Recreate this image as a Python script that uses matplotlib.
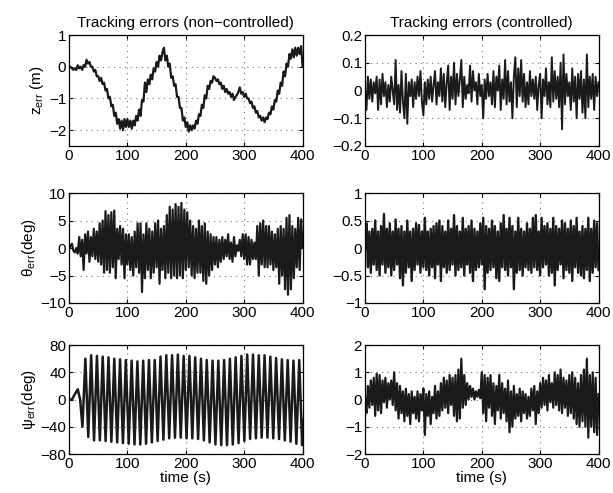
import numpy as np
import matplotlib.pyplot as plt

plt.rcParams['font.family'] = ['Liberation Sans', 'DejaVu Sans']
plt.rcParams['font.size'] = 10
plt.rcParams['mathtext.fontset'] = 'custom'
plt.rcParams['mathtext.rm'] = 'Liberation Sans'
plt.rcParams['mathtext.it'] = 'Liberation Sans:italic'

# time base for the sampled signals (2.5 s step)
t = np.linspace(0, 400, 161)

# z error, non-controlled (m)
z_nc = [0.0, 0.0, -0.05, -0.1,
        -0.05, -0.1, 0.05, -0.05,
        0.0, -0.1, 0.05, 0.0,
        0.22, 0.1, 0.15, 0.0,
        0.0, -0.15, -0.1, -0.3,
        -0.3, -0.45, -0.35, -0.55,
        -0.5, -0.75, -0.7, -1.0,
        -0.95, -1.25, -1.2, -1.55,
        -1.45, -1.8, -1.65, -1.95,
        -1.7, -2.0, -1.65, -1.9,
        -1.65, -1.9, -1.7, -1.95,
        -1.7, -1.85, -1.55, -1.7,
        -1.35, -1.55, -1.05, -1.1,
        -0.5, -0.8, -0.4, -0.55,
        -0.25, -0.4, -0.05, -0.15,
        0.15, 0.0, 0.35, 0.2,
        0.45, 0.6, 0.2, 0.35,
        0.0, 0.1, -0.35, -0.3,
        -0.6, -0.55, -0.95, -0.95,
        -1.3, -1.3, -1.7, -1.6,
        -1.9, -1.75, -2.05, -1.85,
        -2.0, -1.85, -1.95, -1.7,
        -1.8, -1.5, -1.55, -1.2,
        -1.3, -0.9, -1.0, -0.6,
        -0.7, -0.45, -0.5, -0.3,
        -0.35, -0.45, -0.4, -0.55,
        -0.5, -0.7, -0.6, -0.8,
        -0.7, -0.85, -0.8, -0.95,
        -0.85, -1.05, -0.95, -0.9,
        -0.8, -0.65, -0.85, -0.8,
        -0.95, -0.85, -1.0, -1.0,
        -1.15, -1.1, -1.3, -1.25,
        -1.45, -1.4, -1.6, -1.55,
        -1.7, -1.6, -1.75, -1.6,
        -1.65, -1.45, -1.5, -1.25,
        -1.35, -1.05, -1.1, -0.75,
        -0.85, -0.5, -0.6, -0.15,
        -0.3, 0.1, 0.0, 0.4,
        0.25, 0.55, 0.3, 0.6,
        0.35, 0.6, 0.4, 0.65,
        0.0]

# z error, controlled (m)
z_c = [0.0, -0.07, 0.05, -0.03,
       0.04, -0.04, 0.03, -0.01,
       0.05, -0.07, 0.04, -0.05,
       0.06, -0.02, 0.03, -0.06,
       0.02, -0.04, 0.05, 0.0,
       -0.05, 0.11, -0.07, 0.02,
       -0.08, 0.07, -0.04, -0.10,
       0.06, -0.12, 0.03, -0.02,
       0.04, -0.06, 0.03, -0.03,
       0.05, -0.02, 0.07, -0.04,
       -0.09, 0.03, -0.05, 0.04,
       -0.03, 0.05, -0.04, 0.02,
       0.07, -0.05, 0.03, -0.02,
       0.08, -0.04, 0.06, -0.06,
       0.03, 0.09, -0.07, 0.05,
       -0.03, 0.10, -0.05, 0.06,
       -0.02, 0.04, 0.11, -0.06,
       0.05, -0.03, 0.02, -0.01,
       0.09, -0.04, 0.07, 0.0,
       0.03, -0.05, 0.06, -0.02,
       0.02, -0.10, 0.04, -0.03,
       0.06, -0.02, 0.03, -0.05,
       0.07, -0.06, 0.05, 0.0,
       0.09, -0.07, 0.04, -0.03,
       0.11, -0.05, 0.07, -0.04,
       0.03, -0.10, 0.05, 0.12,
       -0.06, 0.08, -0.02, 0.11,
       -0.04, 0.06, -0.06, 0.03,
       -0.05, 0.07, -0.02, 0.04,
       -0.03, 0.05, -0.07, 0.02,
       0.06, -0.10, 0.04, -0.02,
       0.08, -0.05, 0.03, -0.06,
       0.12, -0.04, 0.07, -0.03,
       0.05, -0.06, 0.10, -0.14,
       0.13, -0.05, 0.06, -0.02,
       0.03, -0.07, 0.08, -0.04,
       0.05, -0.10, 0.06, -0.03,
       0.07, -0.08, 0.04, -0.10,
       0.13, -0.06, 0.05, -0.03,
       0.06, -0.07, 0.05, -0.02,
       0.03]

# theta error, non-controlled (deg)
th_nc = [0.0, 0.3, 0.8, -0.5,
         -0.8, 0.0, -1.0, 2.0,
         -1.5, 1.5, -4.0, 2.5,
         -1.0, 3.0, -2.5, 2.0,
         -1.5, 3.5, -2.0, 3.0,
         -2.5, 4.5, -3.0, 5.0,
         -4.5, 6.7, -4.0, 6.0,
         -4.5, 6.5, -3.5, 6.8,
         -5.5, 3.5, -2.0, 4.0,
         -3.0, 3.5, -5.5, 2.5,
         -3.0, 2.5, -4.0, 2.0,
         -5.0, 3.0, -3.5, 4.5,
         -4.5, 4.5, -8.0, 2.5,
         -5.5, 4.5, -4.0, 3.5,
         -5.5, 3.0, -4.5, 4.5,
         -3.5, 5.0, -6.5, 3.5,
         -4.0, 4.0, -5.5, 6.0,
         -4.5, 7.5, -5.5, 7.0,
         -5.0, 8.0, -5.5, 7.5,
         -5.0, 8.2, -5.5, 7.0,
         -4.0, 6.5, -3.5, 5.0,
         -5.0, 4.0, -5.5, 3.5,
         -4.5, 5.0, -4.5, 4.0,
         -6.0, 4.5, -6.5, 3.0,
         -5.0, 2.5, -4.0, 2.0,
         -3.0, 2.0, -3.5, 1.5,
         -2.5, 2.0, -2.0, 1.5,
         -1.5, 2.5, -2.0, 1.0,
         -2.5, 2.0, -1.5, 0.5,
         -0.5, 1.5, -1.5, 2.5,
         -2.0, 2.5, -3.0, 2.0,
         -3.0, 1.5, -2.0, 1.0,
         -2.0, 4.0, -5.0, 4.5,
         -3.0, 5.0, -3.5, 4.0,
         -3.5, 4.0, -3.0, 3.0,
         -4.0, 2.5, -3.5, 3.5,
         -6.5, 4.0, -5.0, 3.5,
         -7.5, 5.5, -8.5, 6.0,
         -7.5, 4.0, -5.5, 3.5,
         -3.5, 5.5, -4.0, 5.2,
         0.0]

# theta error, controlled (deg)
th_c = [0.0, 0.45, -0.35, 0.3,
        -0.45, 0.35, -0.3, 0.5,
        -0.4, 0.3, -0.5, 0.4,
        -0.3, 0.62, -0.45, 0.35,
        -0.35, 0.45, -0.5, 0.3,
        -0.4, 0.52, -0.3, 0.35,
        -0.55, 0.4, -0.68, 0.3,
        -0.45, 0.5, -0.35, 0.3,
        -0.6, 0.35, -0.4, 0.45,
        -0.3, 0.42, -0.45, 0.3,
        -0.35, 0.55, -0.4, 0.3,
        -0.5, 0.35, -0.35, 0.4,
        -0.55, 0.45, -0.3, 0.5,
        -0.6, 0.4, -0.35, 0.3,
        -0.45, 0.5, -0.4, 0.35,
        -0.3, 0.6, -0.5, 0.4,
        -0.4, 0.3, -0.35, 0.55,
        -0.5, 0.35, -0.3, 0.4,
        -0.45, 0.5, -0.6, 0.35,
        -0.4, 0.3, -0.35, 0.45,
        -0.3, 0.55, -0.75, 0.4,
        -0.45, 0.35, -0.4, 0.5,
        -0.35, 0.4, -0.55, 0.3,
        -0.6, 0.45, -0.35, 0.6,
        -0.4, 0.35, -0.5, 0.55,
        -0.35, 0.4, -0.75, 0.3,
        -0.45, 0.55, -0.4, 0.35,
        -0.5, 0.3, -0.35, 0.45,
        -0.4, 0.35, -0.45, 0.55,
        -0.35, 0.6, -0.4, 0.3,
        -0.5, 0.55, -0.35, 0.4,
        -0.3, 0.45, -0.5, 0.35,
        -0.45, 0.55, -0.68, 0.4,
        -0.4, 0.35, -0.3, 0.5,
        -0.55, 0.45, -0.4, 0.35,
        -0.45, 0.5, -0.6, 0.4,
        -0.35, 0.55, -0.45, 0.3,
        -0.5, 0.4, -0.55, 0.35,
        -0.4, 0.55, -0.6, 0.35,
        -0.45, 0.5, -0.35, 0.45,
        -0.4]

# psi error, non-controlled (deg): start-up, then peak/trough pairs
psi_start_t = [0, 5, 10, 15, 19, 23]
psi_start = [0, 0, 8, 15, 0, -40]
psi_peaks = [60, 65, 64, 63, 62, 60, 59, 58, 57, 56, 57, 58, 58, 63, 65, 65,
             66, 64, 64, 62, 60, 58, 57, 57, 58, 60, 62, 64, 66, 66, 65, 65,
             63, 61, 59, 58, 57, 58]
psi_troughs = [-55, -60, -60, -61, -62, -63, -64, -65, -66, -66, -65, -63,
               -61, -59, -57, -56, -56, -57, -57, -58, -60, -63, -66, -67,
               -67, -66, -64, -61, -58, -57, -56, -56, -57, -58, -60, -62,
               -65, -67]

# psi error, controlled (deg)
psi_c = [0.0, -0.5, 0.5, -0.3,
         0.7, -0.2, 0.8, -0.6,
         0.95, -0.4, 0.9, -0.5,
         0.7, -0.1, 0.8, -0.3,
         0.6, 0.0, 0.7, -0.2,
         1.0, -0.4, 0.6, -0.7,
         0.5, -0.5, 0.3, -0.8,
         0.4, -0.6, 0.2, -0.9,
         0.3, -0.5, 0.1, -0.7,
         0.3, -0.8, 0.2, -0.4,
         0.4, -1.3, 0.2, -0.6,
         0.3, -0.9, 0.1, -0.5,
         0.5, -0.7, 0.3, -0.6,
         0.6, -0.4, 0.8, -0.3,
         0.7, -0.5, 0.9, -0.2,
         0.8, -0.6, 0.9, -0.8,
         1.1, -0.7, 1.5, -0.3,
         0.9, -0.2, 0.6, 0.0,
         0.5, 0.1, 0.4, 0.0,
         0.3, 0.1, 0.35, 0.05,
         1.0, -0.5, 0.9, -0.8,
         0.8, -0.3, 0.9, -0.6,
         0.6, -0.9, 0.5, -0.4,
         0.9, -0.7, 0.6, -0.5,
         0.4, -0.8, 0.7, -1.2,
         0.3, -1.0, 0.5, -0.7,
         0.2, -0.6, 0.4, -0.8,
         0.3, -0.5, 0.2, -0.7,
         0.1, -0.6, 0.4, -0.4,
         0.5, -0.9, 0.3, -0.5,
         0.6, -0.3, 0.8, -0.2,
         0.7, -0.4, 0.9, -0.1,
         0.6, -0.3, 1.0, -0.2,
         0.9, -0.4, 1.1, -0.5,
         0.8, -0.3, 0.7, -0.6,
         0.9, -0.5, 1.0, -0.7,
         0.8, -0.9, 0.6, -1.0,
         0.9, -0.8, 1.1, -1.0,
         1.5, -1.4, 0.9, -1.0,
         1.0, -1.2, 0.8, -1.3,
         0.2]

# assemble psi non-controlled
psi_osc = []
for p, q in zip(psi_peaks, psi_troughs):
    psi_osc += [p, q]
t_osc = 28 + 4.95 * np.arange(len(psi_osc))
t_psi = np.concatenate([psi_start_t, t_osc, [400]])
psi_nc = np.concatenate([psi_start, psi_osc, [-30]])

fig = plt.figure(figsize=(6.13, 4.93), dpi=100)

lx, rx, w = 0.1126, 0.5954, 0.381
rows = [(0.7039, 0.225), (0.3854, 0.223), (0.0791, 0.221)]

panels = [
    (0, 0, t, z_nc, (-2.5, 1), [-2, -1, 0, 1], ['\u22122', '\u22121', '0', '1'],
     r'z$_{\mathrm{err}}$ (m)', 1.6),
    (0, 1, t, z_c, (-0.2, 0.2), [-0.2, -0.1, 0, 0.1, 0.2],
     ['\u22120.2', '\u22120.1', '0', '0.1', '0.2'], None, 1.4),
    (1, 0, t, th_nc, (-10, 10), [-10, -5, 0, 5, 10],
     ['\u221210', '\u22125', '0', '5', '10'], '\u03b8$_{\\mathrm{err}}$(deg)', 1.6),
    (1, 1, t, th_c, (-1, 1), [-1, -0.5, 0, 0.5, 1],
     ['\u22121', '\u22120.5', '0', '0.5', '1'], None, 1.7),
    (2, 0, t_psi, psi_nc, (-80, 80), [-80, -40, 0, 40, 80],
     ['\u221280', '\u221240', '0', '40', '80'], '\u03c8$_{\\mathrm{err}}$(deg)', 1.8),
    (2, 1, t, psi_c, (-2, 2), [-2, -1, 0, 1, 2],
     ['\u22122', '\u22121', '0', '1', '2'], None, 1.6),
]

for r, c, x, y, yl, yt, ytl, lab, lw in panels:
    b, h = rows[r]
    ax = fig.add_axes([lx if c == 0 else rx, b, w, h])
    ax.plot(x, y, color='#1a1a1a', lw=lw)
    ax.set_xlim(0, 400)
    ax.set_ylim(*yl)
    ax.set_xticks([0, 100, 200, 300, 400])
    ax.set_yticks(yt)
    ax.set_yticklabels(ytl)
    ax.grid(True, linestyle=(0, (1, 4)), color='#777777', lw=0.8)
    ax.tick_params(direction='in', top=True, right=True, length=3,
                   labelsize=11, pad=2)
    for s in ax.spines.values():
        s.set_linewidth(0.9)
    if lab:
        ax.set_ylabel(lab, fontsize=11, labelpad=2)
    if r == 2:
        ax.set_xlabel('time (s)', fontsize=11, labelpad=0)
    if r == 0:
        ax.set_title('Tracking errors (non\u2212controlled)' if c == 0
                     else 'Tracking errors (controlled)', fontsize=11, pad=6)

fig.savefig('out.png', dpi=100)
